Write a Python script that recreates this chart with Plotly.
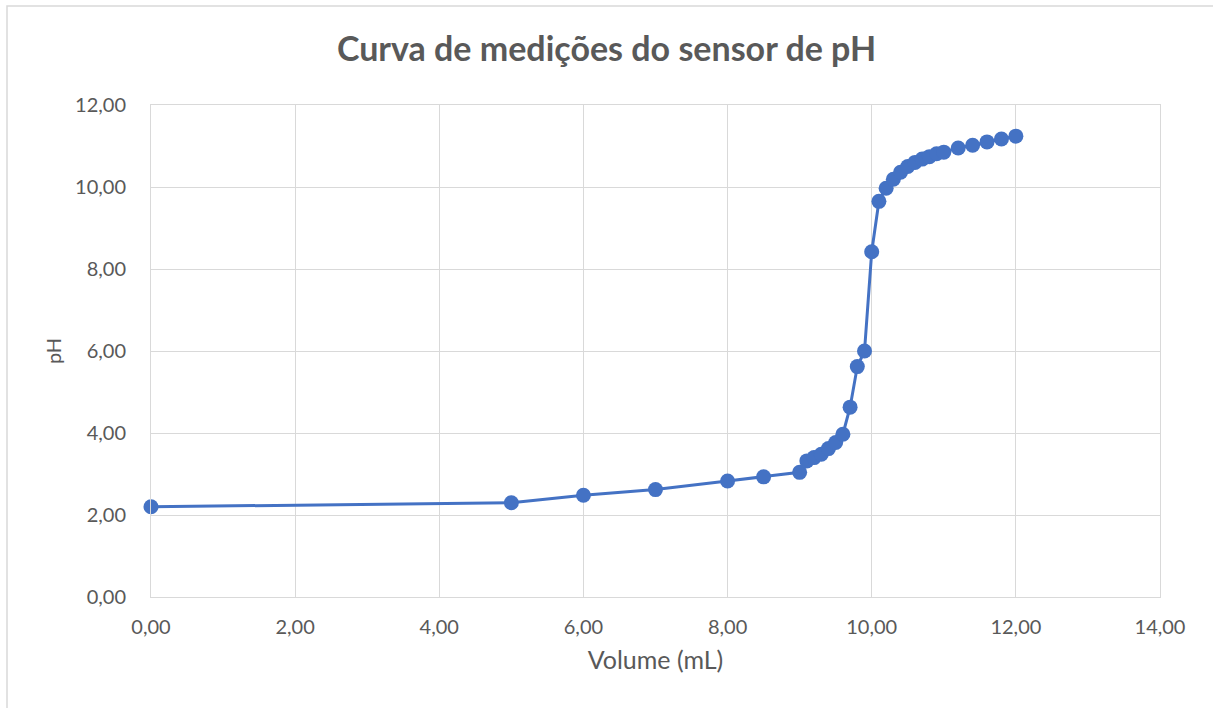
import plotly.graph_objects as go

volume_ml = [0, 5, 6, 7, 8, 8.5, 9, 9.1, 9.2, 9.3, 9.4, 9.5, 9.6, 9.7, 9.8, 9.9,
             10.0, 10.1, 10.2, 10.3, 10.4, 10.5, 10.6, 10.7, 10.8, 10.9, 11.0,
             11.2, 11.4, 11.6, 11.8, 12.0]
ph_values = [2.20, 2.30, 2.48, 2.62, 2.83, 2.93, 3.04, 3.32, 3.40, 3.48, 3.62, 3.77,
             3.97, 4.63, 5.62, 6.00, 8.42, 9.65, 9.97, 10.19, 10.36, 10.50, 10.60,
             10.68, 10.74, 10.81, 10.85, 10.95, 11.02, 11.10, 11.17, 11.24]

x_ticks = [0, 2, 4, 6, 8, 10, 12, 14]
y_ticks = [0, 2, 4, 6, 8, 10, 12]

def fmt(v):
    return f"{v:.2f}".replace(".", ",")

font_family = "Lato, 'Open Sans', sans-serif"
gray = "#595959"
grid = "#D9D9D9"

fig = go.Figure()
fig.add_trace(go.Scatter(
    x=volume_ml, y=ph_values, mode="lines+markers",
    line=dict(color="#4472C4", width=3),
    marker=dict(color="#4472C4", size=15),
    cliponaxis=False,
    showlegend=False,
))

fig.update_layout(
    width=1213, height=708,
    margin=dict(l=151, r=53, t=105, b=111),
    paper_bgcolor="white", plot_bgcolor="white",
    title=dict(text="<b>Curva de medições do sensor de pH</b>", x=0.5, xanchor="center",
               y=0.93, yanchor="middle",
               font=dict(family=font_family, size=34, color=gray)),
    xaxis=dict(range=[0, 14], tickvals=x_ticks, ticktext=[fmt(v) for v in x_ticks],
               showgrid=True, gridcolor=grid, gridwidth=1,
               zeroline=False, showline=True, linecolor=grid, linewidth=1, mirror=True,
               tickfont=dict(family=font_family, size=20, color=gray), ticks="",
               ticklabelstandoff=12,
               title=dict(text="Volume (mL)", font=dict(family=font_family, size=25, color=gray),
                          standoff=14)),
    yaxis=dict(range=[0, 12], tickvals=y_ticks, ticktext=[fmt(v) for v in y_ticks],
               showgrid=True, gridcolor=grid, gridwidth=1,
               zeroline=False, showline=True, linecolor=grid, linewidth=1, mirror=True,
               tickfont=dict(family=font_family, size=20, color=gray), ticks="",
               ticklabelstandoff=20,
               title=dict(text="pH", font=dict(family=font_family, size=20, color=gray),
                          standoff=8)),
)

# outer chart border
fig.add_shape(type="rect", xref="paper", yref="paper",
              x0=(7 - 151) / 1009, x1=(1225 - 151) / 1009,
              y0=(597 - 720) / 492, y1=(597 - 6) / 492,
              line=dict(color=grid, width=1.5), layer="below")

fig.write_html("out.html")
